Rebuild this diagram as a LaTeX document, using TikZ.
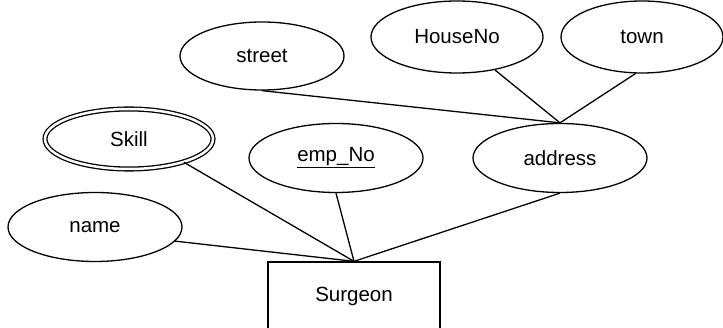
\documentclass[tikz,border=0pt]{standalone}
\usepackage{fontspec}
\setmainfont{Liberation Sans}
\usetikzlibrary{shapes.geometric}

\begin{document}
\begin{tikzpicture}[x=1pt,y=-1pt,line width=1.3pt,
    font=\fontsize{20.5}{24}\selectfont,
    attr/.style={draw,ellipse,inner sep=0pt,minimum width=174pt,minimum height=69pt},
    entity/.style={draw,rectangle,minimum width=172pt,minimum height=68pt}]
    \useasboundingbox (0,0) rectangle (723,328);
    % attributes
    \node[attr] (name) at (95,227) {name};
    \node[attr,minimum width=168pt,minimum height=60pt,double,double distance=2.5pt] (skill) at (129,139) {Skill};
    \node[attr] (empno) at (336,158) {\underline{emp\_No}};
    \node[attr] (address) at (560,158) {address};
    \node[attr,minimum width=164pt,minimum height=68pt] (street) at (262,56) {street};
    \node[attr,minimum width=172pt,minimum height=72pt] (houseno) at (457,37) {HouseNo};
    \node[attr,minimum width=162pt,minimum height=72pt] (town) at (642,37) {town};
    % entity
    \node[entity] (surgeon) at (354,296) {Surgeon};
    % links
    \draw (name.-10) -- (surgeon.north);
    \draw (skill.-23) -- (surgeon.north);
    \draw (empno.south) -- (surgeon.north);
    \draw (address.south) -- (surgeon.north);
    \draw (street.south) -- (address.north);
    \draw (houseno.-41) -- (address.north);
    \draw (town.-100) -- (address.north);
\end{tikzpicture}
\end{document}
